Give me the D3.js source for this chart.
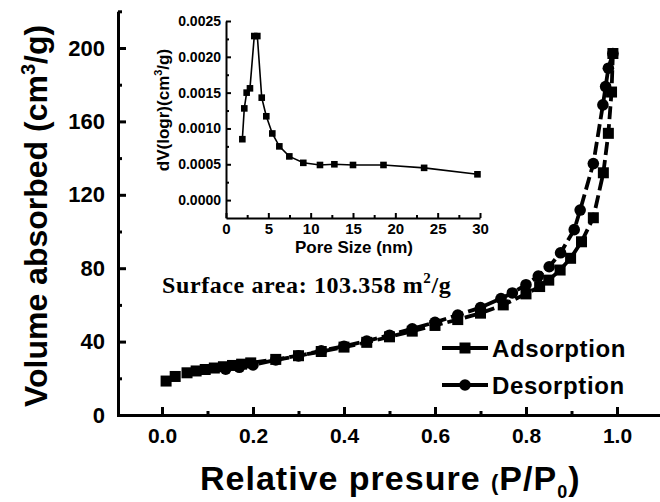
<!DOCTYPE html>
<html lang="en">
<head>
  <meta charset="UTF-8" />
  <title>BET isotherm</title>
  <style>
    body { margin: 0; background: #fff; }
    svg { display: block; }
    .ax path, .ax line { stroke: #000; }
    .ax text { font-family: "Liberation Sans", Arial, sans-serif; font-weight: bold; fill: #000; }
  </style>
</head>
<body>
  <svg id="chart" width="660" height="502"></svg>

  <script src="https://d3js.org/d3.v7.min.js"></script>
  <script>
    // main isotherm, P/P0 vs volume (cm3/g)
    const adsP = [0.009, 0.029, 0.055, 0.075, 0.095, 0.115, 0.135, 0.155, 0.175, 0.195, 0.25, 0.30, 0.35, 0.40, 0.45, 0.50, 0.55, 0.60, 0.65, 0.70, 0.75, 0.80, 0.83, 0.85, 0.875, 0.898, 0.922, 0.948, 0.970, 0.981, 0.988, 0.991];
    const adsV = [18.5, 21, 23, 24, 24.8, 25.6, 26.3, 27, 27.7, 28.4, 30.3, 32.3, 34.6, 37, 39.6, 42.6, 45.7, 48.8, 52, 55.5, 60, 66, 70, 73.5, 79, 85.4, 94.4, 107.5, 132, 153.5, 176, 197];
    const desP = [0.991, 0.981, 0.975, 0.969, 0.948, 0.919, 0.906, 0.876, 0.851, 0.827, 0.80, 0.77, 0.745, 0.70, 0.65, 0.60, 0.55, 0.50, 0.45, 0.40, 0.35, 0.30, 0.25, 0.20, 0.17, 0.14];
    const desV = [197, 189, 179, 169, 137, 111.7, 101, 88.4, 80.8, 75.7, 71, 66.5, 63.5, 58.5, 54.5, 50.5, 47, 43.5, 40.3, 37.5, 35, 32.2, 30, 27.3, 26, 25];

    // inset pore size distribution
    const poreSize = [1.93, 2.16, 2.44, 2.83, 3.34, 3.70, 4.22, 4.76, 5.47, 6.30, 7.48, 9.13, 11.1, 12.8, 15.0, 18.6, 23.4, 29.7];
    const poreVol = [0.00085, 0.00128, 0.00150, 0.00156, 0.00229, 0.00229, 0.00143, 0.00117, 0.00093, 0.00075, 0.00061, 0.00052, 0.00049, 0.00050, 0.00049, 0.00049, 0.00045, 0.00036];

    const xMajor = [0, 0.2, 0.4, 0.6, 0.8, 1.0];
    const xMinor = [0.1, 0.3, 0.5, 0.7, 0.9];
    const yMajor = [0, 40, 80, 120, 160, 200];
    const yMinor = [20, 60, 100, 140, 180, 220];
    const inXMajor = [0, 5, 10, 15, 20, 25, 30];
    const inXMinor = [2.5, 7.5, 12.5, 17.5, 22.5, 27.5];
    const inYMajor = [0, 0.0005, 0.001, 0.0015, 0.002, 0.0025];
    const inYMinor = [0.00025, 0.00075, 0.00125, 0.00175, 0.00225];

    const svg = d3.select("#chart");
    const sans = "'Liberation Sans', Arial, sans-serif";

    const x = d3.scaleLinear().domain([-0.1, 1.1]).range([116.5, 662.5]);
    const y = d3.scaleLinear().domain([0, 220]).range([415, 11.3]);

    // main axes
    const gx = svg.append("g").attr("class", "ax").attr("transform", "translate(0,415)");
    gx.call(d3.axisBottom(x).tickValues(xMajor).tickSizeInner(-8).tickSizeOuter(0).tickPadding(13).tickFormat(d3.format(".1f")));
    gx.append("g").call(d3.axisBottom(x).tickValues(xMinor).tickSizeInner(-4).tickSizeOuter(0).tickFormat(""))
      .select(".domain").remove();
    gx.selectAll("path, line").attr("stroke-width", 3);
    gx.selectAll("text").style("font-size", "21px");

    const gy = svg.append("g").attr("class", "ax").attr("transform", `translate(${x(-0.1) + 1.5},0)`);
    gy.call(d3.axisLeft(y).tickValues(yMajor).tickSizeInner(-8).tickSizeOuter(0).tickPadding(13));
    gy.append("g").call(d3.axisLeft(y).tickValues(yMinor).tickSizeInner(-4).tickSizeOuter(0).tickFormat(""))
      .select(".domain").remove();
    gy.selectAll("path, line").attr("stroke-width", 3);
    gy.selectAll("text").style("font-size", "22px");

    // curves
    const ads = adsP.map((p, i) => [p, adsV[i]]);
    const des = desP.map((p, i) => [p, desV[i]]);
    const line = d3.line().x(d => x(d[0])).y(d => y(d[1]));

    svg.append("path").datum(ads).attr("d", line)
      .attr("fill", "none").attr("stroke", "#000").attr("stroke-width", 3.8).attr("stroke-dasharray", "13,5");
    svg.append("path").datum(des).attr("d", line)
      .attr("fill", "none").attr("stroke", "#000").attr("stroke-width", 3.8).attr("stroke-dasharray", "13,5");

    svg.append("g").selectAll("rect").data(ads).join("rect")
      .attr("x", d => x(d[0]) - 5.5).attr("y", d => y(d[1]) - 5.5)
      .attr("width", 11).attr("height", 11).attr("fill", "#000");
    svg.append("g").selectAll("circle").data(des).join("circle")
      .attr("cx", d => x(d[0])).attr("cy", d => y(d[1])).attr("r", 5.8).attr("fill", "#000");

    // legend
    const leg = svg.append("g").attr("font-family", sans).attr("font-weight", "bold");
    [["Adsorption", 348], ["Desorption", 385]].forEach(([name, ly], i) => {
      leg.append("line").attr("x1", 442).attr("x2", 488).attr("y1", ly).attr("y2", ly)
        .attr("stroke", "#000").attr("stroke-width", 3.8);
      if (i === 0) {
        leg.append("rect").attr("x", 459.5).attr("y", ly - 5.5).attr("width", 11).attr("height", 11);
      } else {
        leg.append("circle").attr("cx", 465).attr("cy", ly).attr("r", 5.8);
      }
      leg.append("text").attr("x", 492).attr("y", ly + 8.5).attr("font-size", 24).attr("letter-spacing", 0.6).text(name);
    });

    // annotation
    const ann = svg.append("text").attr("x", 162).attr("y", 293)
      .attr("font-family", "'Liberation Serif', 'Times New Roman', serif").attr("font-weight", "bold").attr("font-size", 24)
      .attr("letter-spacing", 0.6);
    ann.append("tspan").text("Surface area: 103.358 m");
    ann.append("tspan").attr("dy", -10).attr("font-size", 15).text("2");
    ann.append("tspan").attr("dy", 10).text("/g");

    // axis titles
    const xt = svg.append("text").attr("x", 200).attr("y", 490)
      .attr("font-family", sans).attr("font-weight", "bold").attr("font-size", 34).attr("letter-spacing", 1);
    xt.append("tspan").text("Relative presure ");
    xt.append("tspan").attr("font-size", 22).text("(");
    xt.append("tspan").text("P/P");
    xt.append("tspan").attr("font-size", 18).attr("dy", 8).text("0");
    xt.append("tspan").attr("dy", -8).text(")");

    const yt = svg.append("text").attr("transform", "translate(47,407) rotate(-90)")
      .attr("font-family", sans).attr("font-weight", "bold").attr("font-size", 32);
    yt.append("tspan").text("Volume absorbed (cm");
    yt.append("tspan").attr("dy", -12).attr("font-size", 20).text("3");
    yt.append("tspan").attr("dy", 12).text("/g)");

    // inset
    const xi = d3.scaleLinear().domain([0, 30]).range([226, 480]);
    const yi = d3.scaleLinear().domain([-0.00025, 0.0025]).range([218, 21]);

    const gxi = svg.append("g").attr("class", "ax").attr("transform", "translate(0,218)");
    gxi.call(d3.axisBottom(xi).tickValues(inXMajor).tickSizeInner(-5).tickSizeOuter(0).tickPadding(5));
    gxi.append("g").call(d3.axisBottom(xi).tickValues(inXMinor).tickSizeInner(-3).tickSizeOuter(0).tickFormat(""))
      .select(".domain").remove();
    gxi.selectAll("path, line").attr("stroke-width", 2);
    gxi.selectAll("text").style("font-size", "15px");

    const gyi = svg.append("g").attr("class", "ax").attr("transform", "translate(226,0)");
    gyi.call(d3.axisLeft(yi).tickValues(inYMajor).tickSizeInner(-5).tickSizeOuter(0).tickPadding(5).tickFormat(d3.format(".4f")));
    gyi.append("g").call(d3.axisLeft(yi).tickValues(inYMinor).tickSizeInner(-3).tickSizeOuter(0).tickFormat(""))
      .select(".domain").remove();
    gyi.selectAll("path, line").attr("stroke-width", 2);
    gyi.selectAll("text").style("font-size", "14px");

    const pore = poreSize.map((s, i) => [s, poreVol[i]]);
    svg.append("path").datum(pore)
      .attr("d", d3.line().x(d => xi(d[0])).y(d => yi(d[1])))
      .attr("fill", "none").attr("stroke", "#000").attr("stroke-width", 1.6);
    svg.append("g").selectAll("rect").data(pore).join("rect")
      .attr("x", d => xi(d[0]) - 3.3).attr("y", d => yi(d[1]) - 3.3)
      .attr("width", 6.6).attr("height", 6.6).attr("fill", "#000");

    svg.append("text").attr("x", 354).attr("y", 253).attr("text-anchor", "middle")
      .attr("font-family", sans).attr("font-weight", "bold").attr("font-size", 17).text("Pore Size (nm)");

    const yti = svg.append("text").attr("transform", "translate(169,110) rotate(-90)").attr("text-anchor", "middle")
      .attr("font-family", sans).attr("font-weight", "bold").attr("font-size", 17);
    yti.append("tspan").text("dV(logr)(cm");
    yti.append("tspan").attr("dy", -7).attr("font-size", 11).text("3");
    yti.append("tspan").attr("dy", 7).text("/g)");
  </script>
</body>
</html>
